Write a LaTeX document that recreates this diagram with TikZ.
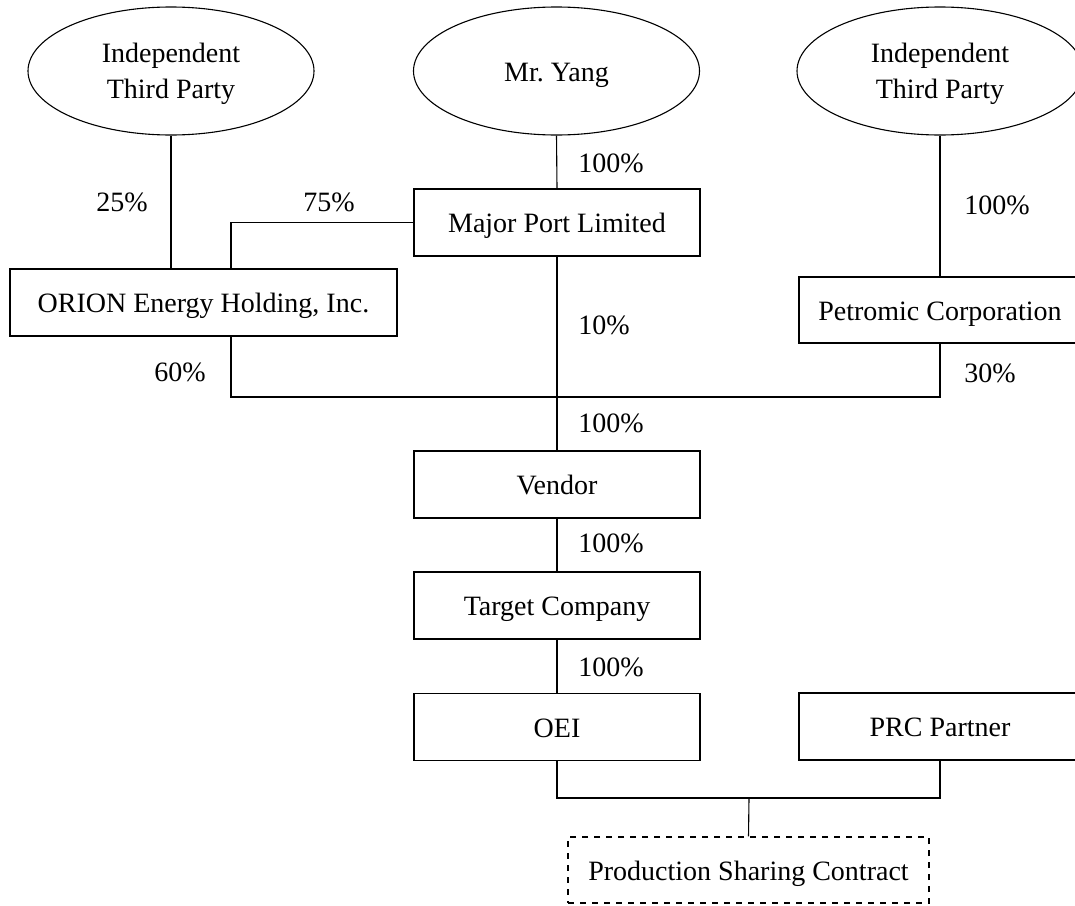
\documentclass[tikz,border=0pt]{standalone}
\usepackage{fontspec}
\setmainfont{Liberation Serif}
\usetikzlibrary{shapes,positioning}

\tikzset{
  company/.style={draw, rectangle, line width=0.55pt, inner sep=0pt,
    minimum width=143pt, minimum height=33.5pt, text height=11.7pt, text depth=1.4pt,
    font=\fontsize{14}{18}\selectfont},
  holder/.style={draw, ellipse, line width=0.55pt, inner sep=0pt, align=center,
    minimum width=143pt, minimum height=64pt, text height=11.7pt, text depth=1.4pt,
    font=\fontsize{14}{18}\selectfont},
  twoline/.style={text height=29.1pt, text depth=1.4pt},
  share/.style={inner sep=0pt, text height=10.7pt, text depth=1.4pt,
    font=\fontsize{14}{15}\selectfont},
  link/.style={line width=0.55pt}
}

\begin{document}
\frenchspacing
\begin{tikzpicture}[x=0.5pt, y=-0.5pt]
        \useasboundingbox (0,0) rectangle (1075,905);
        % shareholders
        \node[holder, twoline] (itpa) at (171,71) {Independent\\Third Party};
        \node[holder] (yang) at (556.5,71) {Mr. Yang};
        \node[holder, twoline] (itpb) at (940,71) {Independent\\Third Party};
        % companies
        \node[company] (mpl) at (557,222.5) {Major Port Limited};
        \node[company, minimum width=193.5pt] (orion) at (203.5,302.5) {ORION Energy Holding, Inc.};
        \node[company, minimum width=141pt, minimum height=33pt] (petro) at (940,310) {Petromic Corporation};
        \node[company] (vendor) at (557,484.5) {Vendor};
        \node[company] (target) at (557,605.5) {Target Company};
        \node[company] (oei) at (557,727) {OEI};
        \node[company, minimum width=141pt] (prc) at (940,726.5) {PRC Partner};
        \node[company, dashed, minimum width=180.5pt, minimum height=33pt] (psc) at (748.5,870) {Production Sharing Contract};
        \coordinate (oribus) at (231,397);
        \coordinate (psbus) at (749,798);
        % links
        \draw[link] (itpa.south) -- (itpa.south |- orion.north);
        \draw[link] (yang.south) -- (mpl.north);
        \draw[link] (itpb.south) -- (petro.north);
        \draw[link] (mpl.west) -| (oribus |- orion.north);
        \draw[link] (oribus |- orion.south) -- (oribus) -- (oribus -| petro.south) -- (petro.south);
        \draw[link] (mpl.south) -- (vendor.north);
        \draw[link] (vendor.south) -- (target.north);
        \draw[link] (target.south) -- (oei.north);
        \draw[link] (oei.south) |- (psbus) -| (prc.south);
        \draw[link] (psbus) -- (psc.north);
        % percentages
        \node[share] (pa) at (122,202) {25\%};
        \node[share] (pb) at (329,202) {75\%};
        \node[share] (pc) at (611,163) {100\%};
        \node[share] (pd) at (997,205) {100\%};
        \node[share] (pe) at (604,325) {10\%};
        \node[share] (pf) at (180,372) {60\%};
        \node[share] (pg) at (990,373) {30\%};
        \node[share] (ph) at (611,423) {100\%};
        \node[share] (pi) at (611,543) {100\%};
        \node[share] (pj) at (611,667) {100\%};
    \end{tikzpicture}
\end{document}
